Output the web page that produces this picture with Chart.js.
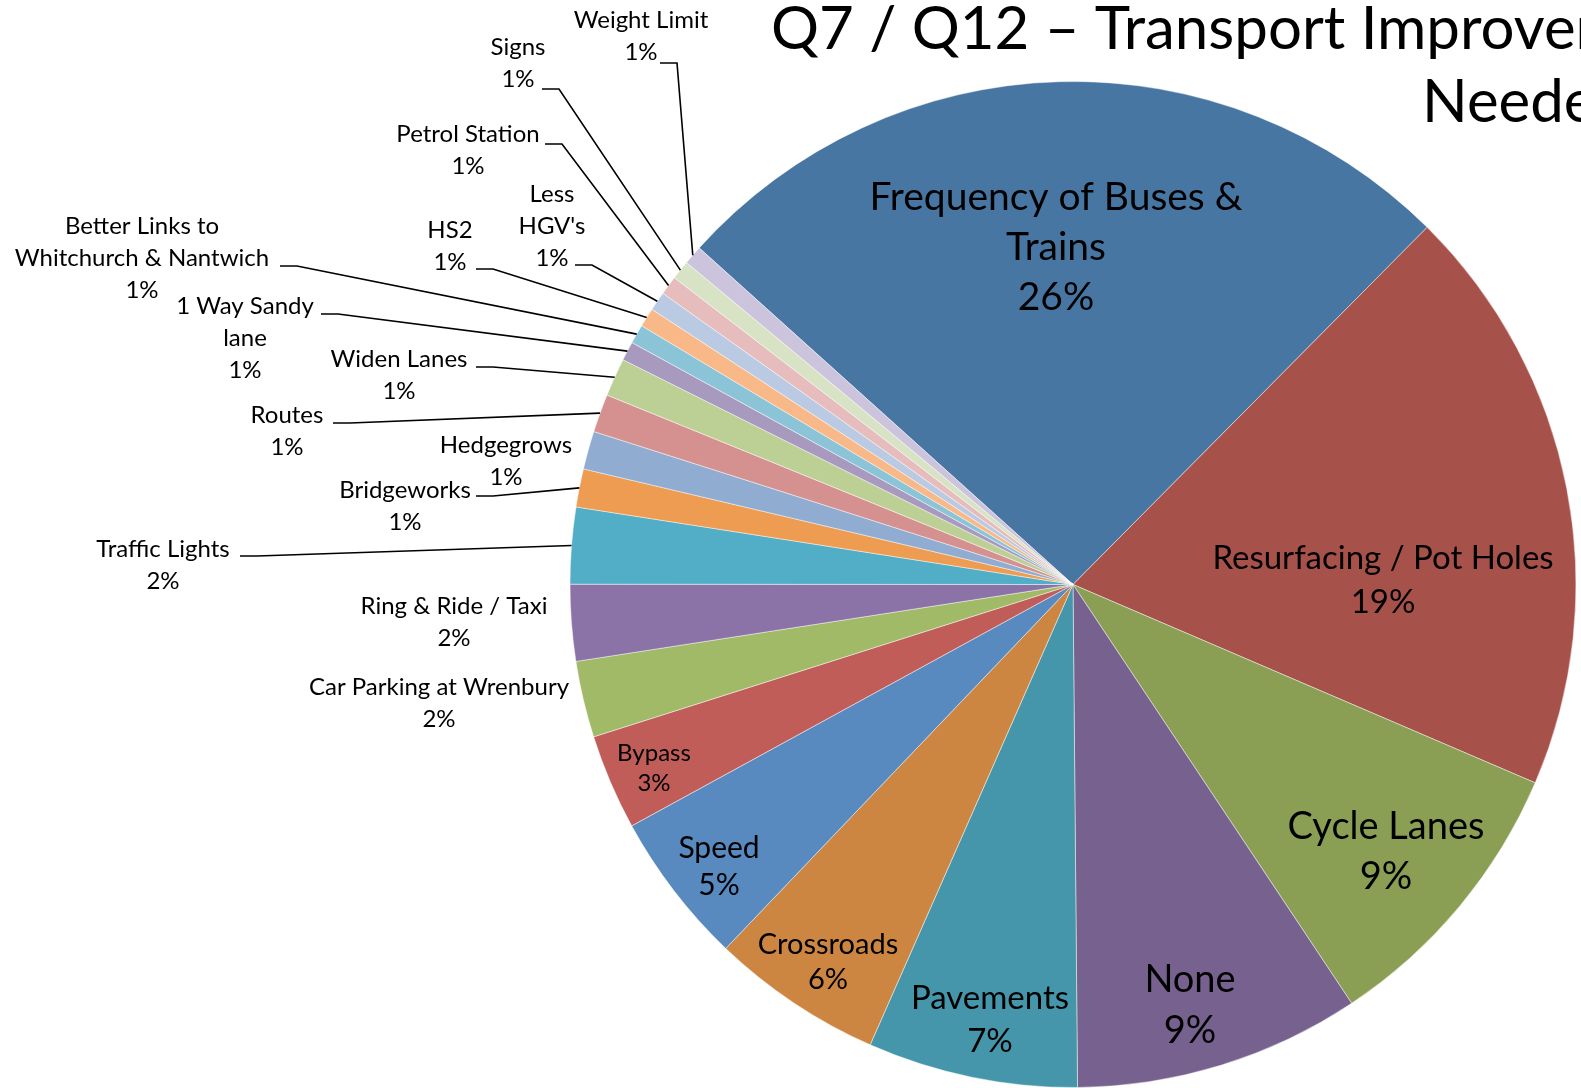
<!DOCTYPE html>
<html>
<head>
<meta charset="utf-8">
<title>Q7 / Q12 – Transport Improvements Needed</title>
<script src="https://cdn.jsdelivr.net/npm/chart.js@4.4.1/dist/chart.umd.min.js"></script>
<style>
  html, body { margin: 0; padding: 0; background: #fff; overflow: hidden; }
  #wrap { position: relative; width: 1581px; height: 1088px; }
</style>
</head>
<body>
<div id="wrap"><canvas id="chart"></canvas></div>
<script>
// answers per improvement, clockwise from the top slice
const categories = [
    'Frequency of Buses & Trains', 'Resurfacing / Pot Holes', 'Cycle Lanes', 'None',
    'Pavements', 'Crossroads', 'Speed', 'Bypass', 'Car Parking at Wrenbury',
    'Ring & Ride / Taxi', 'Traffic Lights', 'Bridgeworks', 'Hedgegrows', 'Routes',
    'Widen Lanes', '1 Way Sandy lane', 'Better Links to Whitchurch & Nantwich', 'HS2',
    "Less HGV's", 'Petrol Station', 'Signs', 'Weight Limit'
];
const counts = [42, 31, 15, 15, 11, 9, 8, 5, 4, 4, 4, 2, 2, 2, 2, 1, 1, 1, 1, 1, 1, 1];

// how each category name is broken over lines in its label
const labelLines = [
    ['Frequency of Buses &', 'Trains'], ['Resurfacing / Pot Holes'], ['Cycle Lanes'], ['None'],
    ['Pavements'], ['Crossroads'], ['Speed'], ['Bypass'], ['Car Parking at Wrenbury'],
    ['Ring & Ride / Taxi'], ['Traffic Lights'], ['Bridgeworks'], ['Hedgegrows'], ['Routes'],
    ['Widen Lanes'], ['1 Way Sandy', 'lane'], ['Better Links to', 'Whitchurch & Nantwich'], ['HS2'],
    ['Less', "HGV's"], ['Petrol Station'], ['Signs'], ['Weight Limit']
];

const titleLines = ['Q7 / Q12 \u2013 Transport Improvements', 'Needed'];

const sliceColors = [
    '#4876A2', '#A7514B', '#8A9F54', '#77628F', '#4596AA', '#CC8641', '#5889BF',
    '#C05D59', '#A0BA67', '#8B73A7', '#52AEC6', '#EE9C51', '#90ACD1', '#D59190',
    '#BCD096', '#A899BF', '#8BC4D7', '#F9B888', '#BACAE2', '#E6BCBC', '#D7E3C4', '#CCC4DC'
];

// where each label sits (first line centre), its size, and where its leader starts
const labelLayout = [
    {x: 1056, y: 197, gap: 50, size: 39},
    {x: 1383, y: 558, gap: 44, size: 33},
    {x: 1386, y: 827, gap: 50, size: 38},
    {x: 1190, y: 980, gap: 51, size: 38},
    {x: 990,  y: 998, gap: 43, size: 33},
    {x: 828,  y: 945, gap: 35, size: 29},
    {x: 719,  y: 848, gap: 37, size: 30},
    {x: 654,  y: 753, gap: 30, size: 24},
    {x: 439,  y: 687, gap: 32, size: 24},
    {x: 454,  y: 606, gap: 32, size: 24},
    {x: 163,  y: 549, gap: 32, size: 24, lead: [240, 556]},
    {x: 405,  y: 490, gap: 32, size: 24, lead: [476, 496]},
    {x: 506,  y: 445, gap: 32, size: 24},
    {x: 287,  y: 415, gap: 32, size: 24, lead: [333, 423]},
    {x: 399,  y: 359, gap: 32, size: 24, lead: [476, 367]},
    {x: 245,  y: 306, gap: 32, size: 24, lead: [321, 314]},
    {x: 142,  y: 226, gap: 32, size: 24, lead: [280, 266]},
    {x: 450,  y: 230, gap: 32, size: 24, lead: [476, 269]},
    {x: 552,  y: 194, gap: 32, size: 24, lead: [575, 265]},
    {x: 468,  y: 134, gap: 32, size: 24, lead: [545, 144]},
    {x: 518,  y: 47,  gap: 32, size: 24, lead: [542, 89]},
    {x: 641,  y: 20,  gap: 32, size: 24, lead: [660, 63]}
];

const FONT = 'Lato, "Open Sans", sans-serif';

const total = counts.reduce((a, b) => a + b, 0);

const pieLabels = {
    id: 'pieLabels',
    afterDraw(chart) {
        const ctx = chart.ctx;
        const arcs = chart.getDatasetMeta(0).data;
        ctx.save();
        ctx.fillStyle = '#000';
        ctx.textAlign = 'center';
        ctx.textBaseline = 'middle';

        arcs.forEach((arc, i) => {
            const lay = labelLayout[i];
            const pct = Math.round(counts[i] / total * 100) + '%';
            const lines = labelLines[i].concat([pct]);
            ctx.font = lay.size + 'px ' + FONT;
            lines.forEach((t, k) => ctx.fillText(t, lay.x, lay.y + k * lay.gap));

            //leader line to the middle of the slice's rim
            if (lay.lead) {
                const p = arc.getProps(['x', 'y', 'startAngle', 'endAngle', 'outerRadius'], true);
                const mid = (p.startAngle + p.endAngle) / 2;
                const ex = p.x + Math.cos(mid) * p.outerRadius;
                const ey = p.y + Math.sin(mid) * p.outerRadius;
                ctx.beginPath();
                ctx.lineWidth = 1.6;
                ctx.strokeStyle = '#000';
                ctx.moveTo(lay.lead[0], lay.lead[1]);
                ctx.lineTo(lay.lead[0] + 17, lay.lead[1]);
                ctx.lineTo(ex, ey);
                ctx.stroke();
            }
        });

        // title runs off the right edge like in the original
        ctx.textAlign = 'left';
        ctx.textBaseline = 'alphabetic';
        ctx.font = '60px ' + FONT;
        ctx.fillText(titleLines[0], 771, 49);
        ctx.fillText(titleLines[1], 1422, 122);
        ctx.restore();
    }
};

const chart = new Chart(document.getElementById('chart').getContext('2d'), {
    type: 'pie',
    data: {
        labels: categories,
        datasets: [{
            data: counts,
            backgroundColor: sliceColors,
            borderColor: 'rgba(255,255,255,0.45)',
            borderWidth: 1,
            hoverOffset: 0
        }]
    },
    options: {
        responsive: true,
        maintainAspectRatio: false,
        animation: false,
        events: [],
        rotation: -48,
        layout: {padding: {left: 569, top: 81, right: 4, bottom: -1}},
        plugins: {
            legend: {display: false},
            tooltip: {enabled: false},
            title: {display: false}
        }
    },
    plugins: [pieLabels]
});
</script>
</body>
</html>
